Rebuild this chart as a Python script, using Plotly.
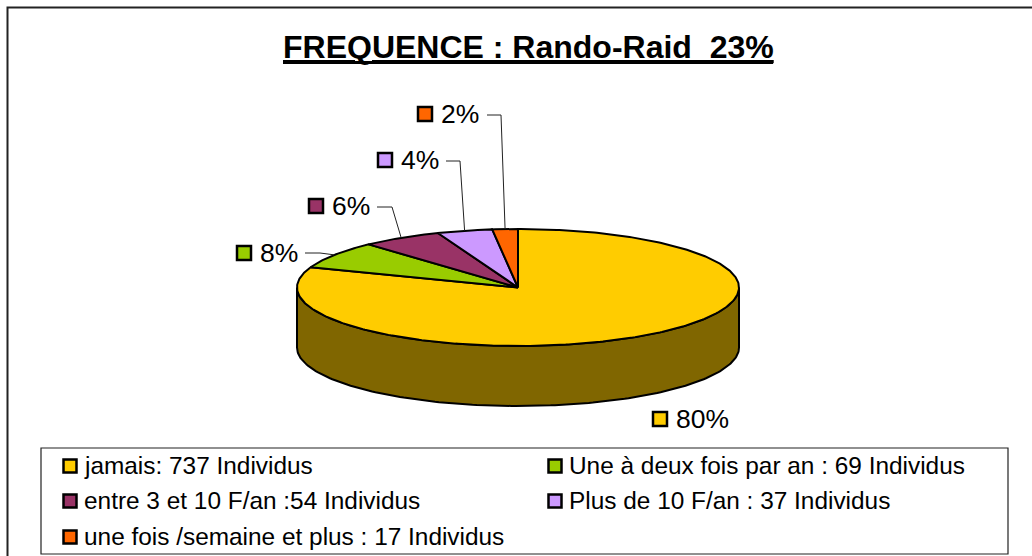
import numpy as np
import plotly.graph_objects as go

# ---- data ----
title_text = "FREQUENCE : Rando-Raid\u00a0\u00a023%"
categories = ["jamais: 737 Individus", "Une à deux fois par an : 69 Individus",
              "entre 3 et 10 F/an :54 Individus", "Plus de 10 F/an : 37 Individus",
              "une fois /semaine et plus : 17 Individus"]
counts = [737, 69, 54, 37, 17]
pct_labels = ["80%", "8%", "6%", "4%", "2%"]

# ---- style / layout ----
W, H = 1032, 556
colors = ["#FFCC00", "#99CC00", "#993366", "#CC99FF", "#FF6600"]
wall_colors = ["#806600", "#4D6600", "#4D1A33", "#664D80", "#803300"]
CX, CY, RX, RY, DEPTH = 518, 287.5, 221, 58.5, 60
INK = "#000000"
# swatch centre of each percentage label (px)
pct_swatch = [(660, 419), (244, 253), (316, 206), (385, 160), (425, 114)]
# elbow of each leader: start, bend (px); None = no leader
leader_start = [None, (305, 253), (377, 207), (446, 161), (487, 115)]
leader_bend = [None, (320, 253), (392, 207), (460, 161), (501, 115)]
legend_swatch = [(70, 466), (555, 466), (70, 501), (555, 501), (70, 537)]

def rim(a_deg, cy=CY):
    a = np.radians(a_deg)
    return CX + RX * np.sin(a), cy - RY * np.cos(a)

total = sum(counts)
edges = np.concatenate([[0], np.cumsum(counts) / total * 360])

fig = go.Figure()

# side wall (visible front half: angles 90..270)
for i in range(len(counts)):
    lo, hi = max(edges[i], 90), min(edges[i + 1], 270)
    if hi <= lo:
        continue
    t = np.linspace(lo, hi, 160)
    xt, yt = rim(t)
    xb, yb = rim(t, CY + DEPTH)
    fig.add_trace(go.Scatter(x=np.r_[xt, xb[::-1], xt[0]], y=np.r_[yt, yb[::-1], yt[0]],
                             mode="lines", fill="toself", fillcolor=wall_colors[i],
                             line=dict(color=INK, width=2), hoverinfo="skip", showlegend=False))

# top face
for i in range(len(counts)):
    t = np.linspace(edges[i], edges[i + 1], max(8, int(counts[i] / total * 500)))
    x, y = rim(t)
    fig.add_trace(go.Scatter(x=np.r_[CX, x, CX], y=np.r_[CY, y, CY], mode="lines",
                             fill="toself", fillcolor=colors[i],
                             line=dict(color=INK, width=2), hoverinfo="text",
                             text=categories[i], showlegend=False))

# leaders
for i in range(len(counts)):
    if leader_start[i] is None:
        continue
    mid = (edges[i] + edges[i + 1]) / 2
    ex, ey = rim(mid)
    fig.add_trace(go.Scatter(x=[leader_start[i][0], leader_bend[i][0], ex],
                             y=[leader_start[i][1], leader_bend[i][1], ey],
                             mode="lines", line=dict(color="#222222", width=1),
                             hoverinfo="skip", showlegend=False))

# percentage labels
fig.add_trace(go.Scatter(x=[p[0] for p in pct_swatch], y=[p[1] for p in pct_swatch],
                         mode="markers", marker=dict(symbol="square", size=14, color=colors,
                                                     line=dict(color=INK, width=2.5)),
                         hoverinfo="skip", showlegend=False))
for p, lab in zip(pct_swatch, pct_labels):
    fig.add_annotation(x=p[0] + 15, y=p[1] - 0.5, text=lab, showarrow=False, xanchor="left",
                       yanchor="middle", borderpad=0,
                       font=dict(family="Liberation Sans", size=26.5, color=INK))

# legend
fig.add_trace(go.Scatter(x=[p[0] for p in legend_swatch], y=[p[1] for p in legend_swatch],
                         mode="markers", marker=dict(symbol="square", size=13, color=colors,
                                                     line=dict(color=INK, width=2.5)),
                         hoverinfo="skip", showlegend=False))
for p, lab in zip(legend_swatch, categories):
    fig.add_annotation(x=p[0] + 13, y=p[1] - 1, text=lab, showarrow=False, xanchor="left",
                       yanchor="middle", borderpad=0,
                       font=dict(family="Liberation Sans", size=24.4, color=INK))

fig.add_annotation(x=528, y=47, text=title_text, showarrow=False, xanchor="center", yanchor="middle",
                   font=dict(family="Liberation Sans", size=32, color=INK, weight="bold", lineposition="under"))

fig.update_layout(
    width=W, height=H, margin=dict(l=0, r=0, t=0, b=0), autosize=False,
    paper_bgcolor="white", plot_bgcolor="white", showlegend=False,
    xaxis=dict(range=[0, W], visible=False, fixedrange=True),
    yaxis=dict(range=[H, 0], visible=False, fixedrange=True),
    shapes=[
        dict(type="rect", x0=7.5, y0=7.5, x1=1040, y1=570, line=dict(color="#222222", width=2), layer="below"),
        dict(type="rect", x0=41, y0=448, x1=1008, y1=554, line=dict(color="#222222", width=1.2), layer="below"),
        dict(type="line", x0=283, y0=62.5, x1=773, y1=62.5, line=dict(color=INK, width=3), layer="above"),
    ],
)
fig.write_html("out.html", config=dict(displayModeBar=False),
               post_script="document.body.style.margin='0';document.body.style.overflow='hidden';")
